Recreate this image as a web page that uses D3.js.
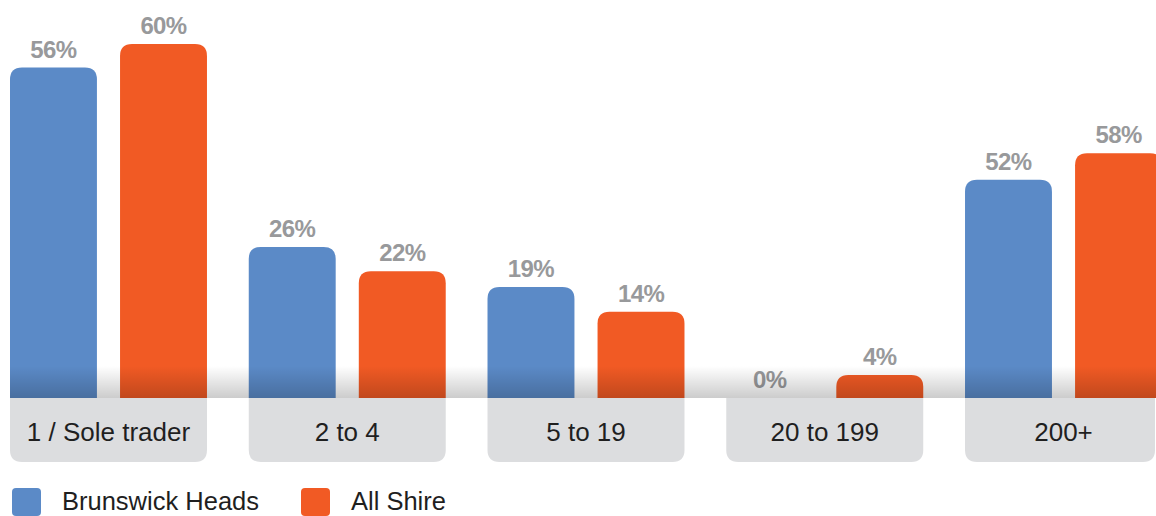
<!DOCTYPE html>
<html>
<head>
<meta charset="utf-8">
<script src="https://cdn.jsdelivr.net/npm/d3@7"></script>
<style>
  body { margin: 0; background: #fff; }
  text { font-family: "Liberation Sans", Arial, sans-serif; }
</style>
</head>
<body>
<div id="chart"></div>
<script>
// data
const categories = ["1 / Sole trader", "2 to 4", "5 to 19", "20 to 199", "200+"];
const seriesNames = ["Brunswick Heads", "All Shire"];
// value labels printed on the chart
const brunswickLabels = ["56%", "26%", "19%", "0%", "52%"];
const shireLabels = ["60%", "22%", "14%", "4%", "58%"];
// bar heights as drawn (the 200+ bars are drawn shorter than their labels)
const brunswickValues = [56, 25.6, 18.8, 0, 37];
const shireValues = [60, 21.5, 14.6, 3.9, 41.5];

const colors = ["#5b8ac7", "#f15a24"];

const svgWidth = 1156;
const svgHeight = 516;
const baseY = 398;

const svg = d3.select("#chart")
    .append("svg")
    .attr("width", svgWidth)
    .attr("height", svgHeight);

const defs = svg.append("defs");
const grad = defs.append("linearGradient")
    .attr("id", "shade")
    .attr("x1", 0).attr("y1", 0).attr("x2", 0).attr("y2", 1);
grad.append("stop").attr("offset", "0%").attr("stop-color", "#000").attr("stop-opacity", 0);
grad.append("stop").attr("offset", "100%").attr("stop-color", "#000").attr("stop-opacity", 0.2);

// scales
const x0 = d3.scaleBand()
    .domain(categories)
    .range([10, 1162])
    .paddingInner(0.175)
    .paddingOuter(0);

const x1 = d3.scaleBand()
    .domain(seriesNames)
    .range([0, x0.bandwidth()])
    .paddingInner(0.21)
    .paddingOuter(0);

const y = d3.scaleLinear()
    .domain([0, 60])
    .range([baseY, 44]);

const rows = categories.map((c, i) => ({
    cat: c,
    bars: [
        { s: seriesNames[0], v: brunswickValues[i], label: brunswickLabels[i] },
        { s: seriesNames[1], v: shireValues[i], label: shireLabels[i] }
    ]
}));

// bar with rounded top corners
function topRounded(x, yTop, w, h, r) {
    r = Math.min(r, h, w / 2);
    if (h <= 0) return "";
    return `M${x},${yTop + h}V${yTop + r}Q${x},${yTop} ${x + r},${yTop}` +
        `H${x + w - r}Q${x + w},${yTop} ${x + w},${yTop + r}V${yTop + h}Z`;
}
// box with rounded bottom corners
function bottomRounded(x, yTop, w, h, r) {
    return `M${x},${yTop}H${x + w}V${yTop + h - r}Q${x + w},${yTop + h} ${x + w - r},${yTop + h}` +
        `H${x + r}Q${x},${yTop + h} ${x},${yTop + h - r}Z`;
}

const groups = svg.selectAll("g.group")
    .data(rows)
    .join("g")
    .attr("class", "group")
    .attr("transform", d => `translate(${x0(d.cat)},0)`);

groups.selectAll("path.bar")
    .data(d => d.bars)
    .join("path")
    .attr("class", "bar")
    .attr("d", d => topRounded(x1(d.s), y(d.v), x1.bandwidth(), baseY - y(d.v), 12))
    .attr("fill", (d, i) => colors[i]);

// shading strip above the baseline
svg.append("rect")
    .attr("x", 10)
    .attr("y", 366)
    .attr("width", svgWidth - 10)
    .attr("height", baseY - 366)
    .attr("fill", "url(#shade)");

// value labels
groups.selectAll("text.val")
    .data(d => d.bars)
    .join("text")
    .attr("class", "val")
    .attr("x", d => x1(d.s) + x1.bandwidth() / 2)
    .attr("y", d => y(d.v) - 10)
    .attr("text-anchor", "middle")
    .attr("font-size", 24)
    .attr("font-weight", "bold")
    .attr("letter-spacing", -0.6)
    .attr("fill", "#98999b")
    .text(d => d.label);

// category boxes (last one is cut by the right edge)
groups.append("path")
    .attr("d", d => bottomRounded(0, baseY,
        Math.min(x0.bandwidth(), svgWidth - 1 - x0(d.cat)), 64, 12))
    .attr("fill", "#dcdddf");

groups.append("text")
    .attr("x", x0.bandwidth() / 2)
    .attr("y", 441)
    .attr("text-anchor", "middle")
    .attr("font-size", 26)
    .attr("fill", "#1f1f1f")
    .text(d => d.cat);

// legend
const legendX = [12, 301];
const legend = svg.selectAll("g.legend")
    .data(seriesNames)
    .join("g")
    .attr("class", "legend")
    .attr("transform", (d, i) => `translate(${legendX[i]},488)`);

legend.append("rect")
    .attr("width", 29)
    .attr("height", 28)
    .attr("rx", 4)
    .attr("fill", (d, i) => colors[i]);

legend.append("text")
    .attr("x", 50)
    .attr("y", 22)
    .attr("font-size", 25.5)
    .attr("fill", "#1f1f1f")
    .text(d => d);
</script>
</body>
</html>
